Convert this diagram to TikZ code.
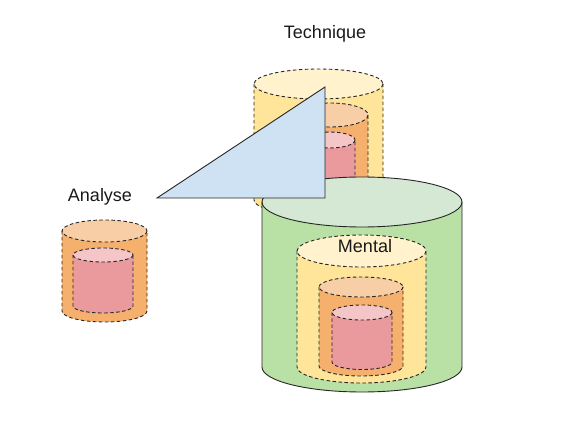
\documentclass[tikz,border=0pt]{standalone}
\usepackage{fontspec}
\setmainfont{Liberation Sans}
\usetikzlibrary{positioning}
\definecolor{yellowbody}{RGB}{255, 229, 153}
\definecolor{yellowtop}{RGB}{255, 242, 204}
\definecolor{orangebody}{RGB}{244, 176, 108}
\definecolor{orangetop}{RGB}{248, 206, 166}
\definecolor{pinkbody}{RGB}{234, 153, 157}
\definecolor{pinktop}{RGB}{244, 198, 200}
\definecolor{greenbody}{RGB}{185, 224, 165}
\definecolor{greentop}{RGB}{213, 232, 212}
\definecolor{wedgecolor}{RGB}{207, 226, 243}

% cylinder: centre x, top y, bottom y, half width, y radius, colour, line style
\newcommand{\drawcyl}[7]{%
  \fill[#6body] (#1-#4,#2) -- (#1-#4,#3)
    arc[start angle=180, end angle=0, x radius=#4, y radius=#5] -- (#1+#4,#2) -- cycle;
  \fill[#6top] (#1,#2) ellipse[x radius=#4, y radius=#5];
  \draw[#7] (#1-#4,#2) -- (#1-#4,#3)
    arc[start angle=180, end angle=0, x radius=#4, y radius=#5] -- (#1+#4,#2);
  \draw[#7] (#1,#2) ellipse[x radius=#4, y radius=#5];
}

\begin{document}
\begin{tikzpicture}[
    x=1pt, y=1pt, yscale=-1,
    dashedline/.style={draw=black!85, line width=0.9pt, dash pattern=on 3.5pt off 2.5pt},
    solidline/.style={draw=black!85, line width=0.9pt},
    caption/.style={font=\fontsize{18}{20}\selectfont, text=black!90}
]
\useasboundingbox (0,0) rectangle (565,443);

% Technique
\drawcyl{318.5}{84}{200}{64.5}{15}{yellow}{dashedline}
\drawcyl{330}{115}{195}{38}{12}{orange}{dashedline}
\drawcyl{330}{140}{190}{25}{8}{pink}{dashedline}

% Mental
\drawcyl{362}{202}{367}{100}{25}{green}{solidline}
\drawcyl{361.5}{251}{367}{64.5}{16}{yellow}{dashedline}
\drawcyl{361}{287}{366}{42}{10}{orange}{dashedline}
\drawcyl{362}{312.5}{362}{30}{7.5}{pink}{dashedline}

% Wedge
\draw[solidline, fill=wedgecolor] (157,198) -- (325,87) -- (325,198) -- cycle;

% Analyse
\drawcyl{104.5}{231}{311}{42.5}{11}{orange}{dashedline}
\drawcyl{103}{255}{306}{30}{7}{pink}{dashedline}

% Labels
\node[caption] (technique) at (325,34) {Technique};
\node[caption] (mental) at (365,246) {Mental};
\node[caption] (analyse) at (100,197) {Analyse};

\end{tikzpicture}
\end{document}
